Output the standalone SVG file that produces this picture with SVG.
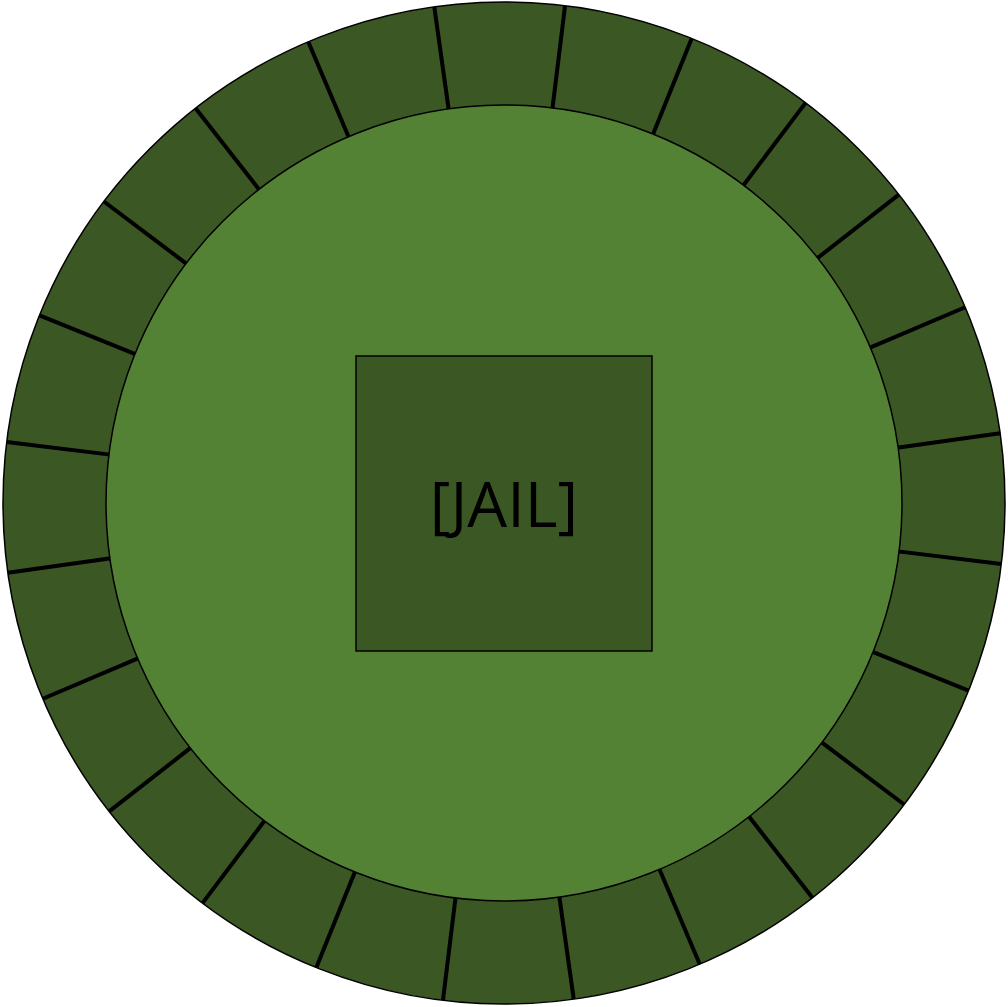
<svg xmlns="http://www.w3.org/2000/svg" width="1008" height="1007" viewBox="0 0 1008 1007">
<style>
.outer{fill:#3a5724;stroke:#000;stroke-width:1.5}
.inner{fill:#548235;stroke:#000;stroke-width:1.5}
.div{stroke:#000;stroke-width:4;fill:none}
.box{fill:#3a5724;stroke:#000;stroke-width:1.5}
.lbl{font-family:"Open Sans",sans-serif;font-size:63px;fill:#000;text-anchor:middle}
</style>
<g id="track">
<circle class="outer" cx="504" cy="503" r="501"/>
</g>
<g id="connectors" class="div">
<line x1="504" y1="2" x2="504" y2="106" transform="rotate(-8 504 503)"/>
<line x1="504" y1="2" x2="504" y2="106" transform="rotate(7 504 503)"/>
<line x1="504" y1="2" x2="504" y2="106" transform="rotate(22 504 503)"/>
<line x1="504" y1="2" x2="504" y2="106" transform="rotate(37 504 503)"/>
<line x1="504" y1="2" x2="504" y2="106" transform="rotate(52 504 503)"/>
<line x1="504" y1="2" x2="504" y2="106" transform="rotate(67 504 503)"/>
<line x1="504" y1="2" x2="504" y2="106" transform="rotate(82 504 503)"/>
<line x1="504" y1="2" x2="504" y2="106" transform="rotate(97 504 503)"/>
<line x1="504" y1="2" x2="504" y2="106" transform="rotate(112 504 503)"/>
<line x1="504" y1="2" x2="504" y2="106" transform="rotate(127 504 503)"/>
<line x1="504" y1="2" x2="504" y2="106" transform="rotate(142 504 503)"/>
<line x1="504" y1="2" x2="504" y2="106" transform="rotate(157 504 503)"/>
<line x1="504" y1="2" x2="504" y2="106" transform="rotate(172 504 503)"/>
<line x1="504" y1="2" x2="504" y2="106" transform="rotate(187 504 503)"/>
<line x1="504" y1="2" x2="504" y2="106" transform="rotate(202 504 503)"/>
<line x1="504" y1="2" x2="504" y2="106" transform="rotate(217 504 503)"/>
<line x1="504" y1="2" x2="504" y2="106" transform="rotate(232 504 503)"/>
<line x1="504" y1="2" x2="504" y2="106" transform="rotate(247 504 503)"/>
<line x1="504" y1="2" x2="504" y2="106" transform="rotate(262 504 503)"/>
<line x1="504" y1="2" x2="504" y2="106" transform="rotate(277 504 503)"/>
<line x1="504" y1="2" x2="504" y2="106" transform="rotate(292 504 503)"/>
<line x1="504" y1="2" x2="504" y2="106" transform="rotate(307 504 503)"/>
<line x1="504" y1="2" x2="504" y2="106" transform="rotate(322 504 503)"/>
<line x1="504" y1="2" x2="504" y2="106" transform="rotate(337 504 503)"/>
</g>
<g id="field">
<circle class="inner" cx="504" cy="503" r="398"/>
</g>
<g id="jail">
<rect class="box" x="356" y="356" width="296" height="295"/>
<text class="lbl" x="504" y="527">[JAIL]</text>
</g>
</svg>
